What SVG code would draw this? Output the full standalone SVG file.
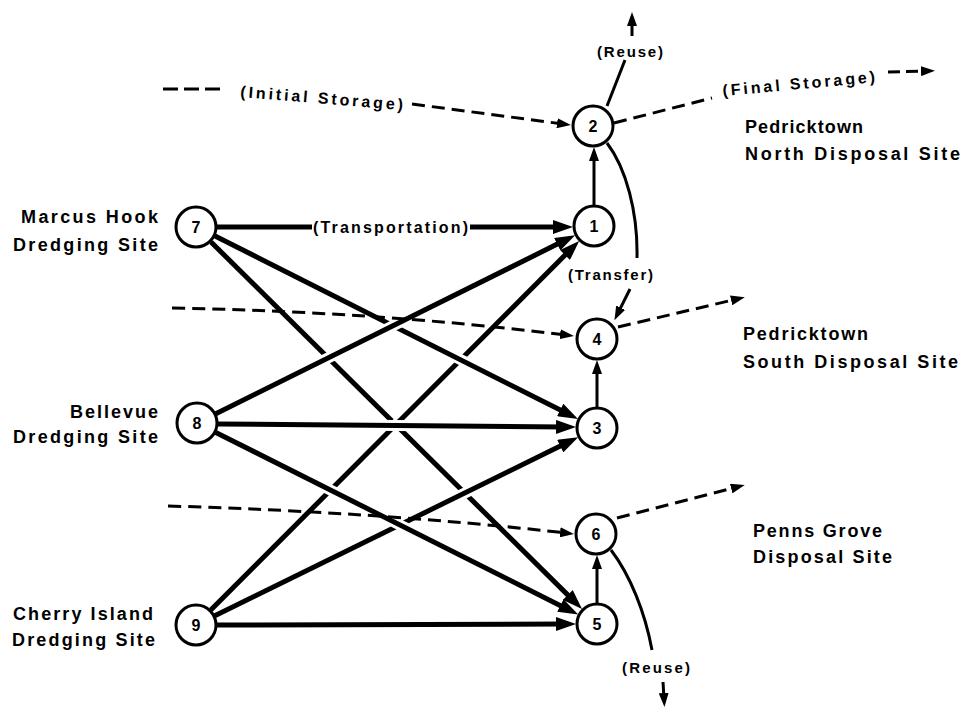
<svg xmlns="http://www.w3.org/2000/svg" width="962" height="708" viewBox="0 0 962 708">
<style>
.lbl{font-family:"Liberation Sans",Arial,sans-serif;font-weight:bold;font-size:18px;fill:#000}
.par{font-family:"Liberation Sans",Arial,sans-serif;font-weight:bold;font-size:16px;fill:#000}
.num{font-family:"Liberation Sans",Arial,sans-serif;font-weight:bold;font-size:16px;fill:#000;text-anchor:middle}
.node circle{fill:#fff;stroke:#000;stroke-width:3}
.edge{stroke:#000;stroke-width:5;fill:none}
.halo{stroke:#fff;stroke-width:11;fill:none}
.thin{stroke:#000;stroke-width:3;fill:none}
.dash{stroke:#000;stroke-width:3;stroke-dasharray:13 7;fill:none}
</style>
<defs>
<marker id="big" markerUnits="userSpaceOnUse" markerWidth="20" markerHeight="14" refX="8" refY="7" orient="auto"><path d="M0,0 L20,7 L0,14 z" fill="#000"/></marker>
<marker id="sm" markerUnits="userSpaceOnUse" markerWidth="14" markerHeight="10" refX="6" refY="5" orient="auto"><path d="M0,0 L14,5 L0,10 z" fill="#000"/></marker>
</defs>
<rect width="962" height="708" fill="#fff"/>
<g id="connectors">
<line class="halo" x1="222" y1="253" x2="570" y2="597"/>
<line class="edge" x1="211" y1="242" x2="573.5" y2="600.6" marker-end="url(#big)"/>
<line class="halo" x1="221" y1="600" x2="567" y2="253"/>
<line class="edge" x1="210.8" y1="610.1" x2="570.7" y2="249.4" marker-end="url(#big)"/>
<line class="halo" x1="228" y1="243" x2="563" y2="411"/>
<line class="edge" x1="215" y1="236" x2="567.3" y2="413.6" marker-end="url(#big)"/>
<line class="halo" x1="229" y1="407" x2="560" y2="243"/>
<line class="edge" x1="215.8" y1="413.7" x2="564.4" y2="240.6" marker-end="url(#big)"/>
<line class="halo" x1="228" y1="609" x2="563" y2="445"/>
<line class="edge" x1="214.8" y1="615.7" x2="567.4" y2="442.6" marker-end="url(#big)"/>
<line class="halo" x1="229" y1="439" x2="563" y2="607"/>
<line class="edge" x1="215.8" y1="432.4" x2="567.5" y2="609.2" marker-end="url(#big)"/>
<line class="halo" x1="232" y1="424" x2="560" y2="427"/>
<line class="edge" x1="218" y1="424" x2="564" y2="427" marker-end="url(#big)"/>
<line class="halo" x1="232" y1="625" x2="560" y2="624"/>
<line class="edge" x1="217" y1="625" x2="564" y2="624" marker-end="url(#big)"/>
<line class="edge" x1="217" y1="227" x2="312" y2="227"/>
<line class="edge" x1="470" y1="227" x2="561" y2="227" marker-end="url(#big)"/>
<line class="thin" x1="594" y1="206" x2="594" y2="155" marker-end="url(#sm)"/>
<line class="thin" x1="597" y1="408" x2="597" y2="368" marker-end="url(#sm)"/>
<line class="thin" x1="597" y1="604" x2="597" y2="563" marker-end="url(#sm)"/>
<path class="thin" d="M607,143 C626,168 638,212 637,258"/>
<line class="thin" x1="630" y1="289" x2="618" y2="313" marker-end="url(#sm)"/>
<line class="thin" x1="607" y1="106" x2="625" y2="60"/>
<line class="thin" x1="632" y1="36" x2="632" y2="20" marker-end="url(#sm)"/>
<path class="thin" d="M611,550 C630,575 645,612 652,650"/>
<line class="thin" x1="663" y1="682" x2="664" y2="699" marker-end="url(#sm)"/>
<line class="dash" x1="163" y1="89" x2="222" y2="89" style="stroke-dasharray:15 6"/>
<line class="dash" x1="412" y1="104" x2="563" y2="124" marker-end="url(#sm)"/>
<line class="dash" x1="614" y1="123" x2="712" y2="98"/>
<line class="dash" x1="888" y1="72" x2="927" y2="71" style="stroke-dasharray:12 6" marker-end="url(#sm)"/>
<path class="dash" d="M172,308 Q380,312 566,335" marker-end="url(#sm)"/>
<line class="dash" x1="618" y1="327" x2="737" y2="299" marker-end="url(#sm)"/>
<path class="dash" d="M168,506 Q380,512 566,533" marker-end="url(#sm)"/>
<line class="dash" x1="617" y1="518" x2="737" y2="487" marker-end="url(#sm)"/>
</g>
<g id="n7" class="node"><circle cx="196" cy="227" r="20"/><text class="num" x="196" y="233">7</text></g>
<g id="n8" class="node"><circle cx="197" cy="423" r="20"/><text class="num" x="197" y="429">8</text></g>
<g id="n9" class="node"><circle cx="196" cy="625" r="20"/><text class="num" x="196" y="631">9</text></g>
<g id="n2" class="node"><circle cx="593" cy="126" r="20"/><text class="num" x="593" y="132">2</text></g>
<g id="n1" class="node"><circle cx="594" cy="226" r="20"/><text class="num" x="594" y="232">1</text></g>
<g id="n4" class="node"><circle cx="597" cy="339" r="20"/><text class="num" x="597" y="345">4</text></g>
<g id="n3" class="node"><circle cx="597" cy="428" r="20"/><text class="num" x="597" y="434">3</text></g>
<g id="n6" class="node"><circle cx="596" cy="534" r="20"/><text class="num" x="596" y="540">6</text></g>
<g id="n5" class="node"><circle cx="597" cy="624" r="20"/><text class="num" x="597" y="630">5</text></g>
<g id="labels">
<text class="lbl" x="21" y="223" textLength="137" lengthAdjust="spacing">Marcus Hook</text>
<text class="lbl" x="13" y="251" textLength="145" lengthAdjust="spacing">Dredging Site</text>
<text class="lbl" x="70" y="418" textLength="88" lengthAdjust="spacing">Bellevue</text>
<text class="lbl" x="13" y="443" textLength="145" lengthAdjust="spacing">Dredging Site</text>
<text class="lbl" x="13" y="620" textLength="140" lengthAdjust="spacing">Cherry Island</text>
<text class="lbl" x="12" y="646" textLength="143" lengthAdjust="spacing">Dredging Site</text>
<text class="lbl" x="745" y="133" textLength="118" lengthAdjust="spacing">Pedricktown</text>
<text class="lbl" x="745" y="160" textLength="215" lengthAdjust="spacing">North  Disposal Site</text>
<text class="lbl" x="743" y="340" textLength="125" lengthAdjust="spacing">Pedricktown</text>
<text class="lbl" x="743" y="368" textLength="215" lengthAdjust="spacing">South  Disposal Site</text>
<text class="lbl" x="753" y="537" textLength="129" lengthAdjust="spacing">Penns Grove</text>
<text class="lbl" x="753" y="563" textLength="139" lengthAdjust="spacing">Disposal Site</text>
<text class="par" x="313" y="233" textLength="155" lengthAdjust="spacing">(Transportation)</text>
<text class="par" x="240" y="97" textLength="163" lengthAdjust="spacing" transform="rotate(4.6 240 97)">(Initial  Storage)</text>
<text class="par" x="723" y="96" textLength="153" lengthAdjust="spacing" transform="rotate(-5.2 723 96)">(Final Storage)</text>
<text class="par" x="568" y="280" textLength="85" lengthAdjust="spacing" style="font-size:15px">(Transfer)</text>
<text class="par" x="597" y="57" textLength="66" lengthAdjust="spacing" style="font-size:15px">(Reuse)</text>
<text class="par" x="622" y="673" textLength="68" lengthAdjust="spacing" style="font-size:15px">(Reuse)</text>
</g>
</svg>
